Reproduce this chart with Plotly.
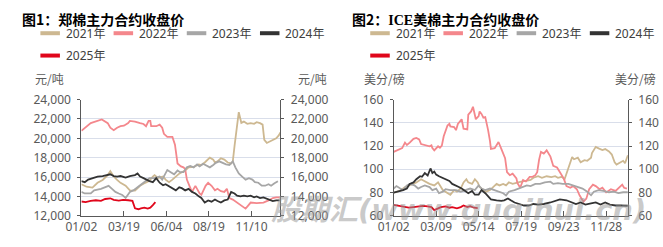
import plotly.graph_objects as go

W, H = 663, 247

names = ["2021年", "2022年", "2023年", "2024年", "2025年"]
colors = ["#CDB891", "#F4878C", "#A6A6A6", "#333333", "#E0061B"]

# ---- Chart 1: 郑棉主力合约收盘价 (元/吨), x = trading-day index ----
zce_tick_pos = [0, 50, 100, 150, 200]
zce_tick_text = ["01/02", "03/19", "06/04", "08/19", "11/10"]

zce_x_2021 = [0, 6, 13, 19, 25, 31, 34, 38, 42, 46, 52, 57, 63, 69, 75, 80, 84, 86, 90, 96, 99, 103, 107, 111, 115, 118, 122, 126, 132, 138, 141, 145, 149, 151, 155, 157, 160, 164, 168, 172, 176, 178, 180, 182, 183, 185, 186, 188, 191, 195, 199, 203, 206, 210, 213, 215, 218, 222, 225, 229, 232, 234]
zce_2021 = [15250, 15000, 14900, 15400, 15700, 16200, 16600, 16050, 15700, 15400, 15100, 14620, 14600, 15100, 15400, 15600, 16050, 16200, 15900, 16050, 15730, 15470, 15730, 16050, 16350, 16500, 16670, 17000, 17050, 17300, 17240, 17500, 17800, 18000, 17800, 17500, 17620, 17940, 17800, 17500, 17400, 17620, 19200, 21100, 21300, 22700, 22200, 21600, 21730, 21500, 21570, 21500, 21670, 21570, 21410, 19830, 19520, 19680, 19830, 20000, 20300, 20620]

zce_x_2022 = [0, 11, 24, 31, 34, 38, 42, 46, 50, 55, 57, 63, 69, 73, 76, 79, 81, 82, 88, 92, 95, 97, 101, 107, 110, 113, 117, 120, 122, 124, 127, 130, 132, 134, 136, 139, 141, 146, 149, 153, 157, 160, 164, 168, 171, 174, 178, 183, 189, 193, 196, 199, 206, 214, 220, 225, 229, 233]
zce_2022 = [20780, 21570, 21950, 21570, 21100, 20840, 21100, 21250, 21300, 21570, 21800, 21730, 21570, 21480, 21250, 21800, 21800, 21250, 21250, 21410, 21100, 20460, 20150, 20150, 19350, 17400, 17100, 17000, 16830, 15730, 15090, 14460, 14780, 15090, 14780, 14300, 14150, 15090, 15410, 15090, 14620, 14780, 14530, 14460, 14780, 13830, 13670, 13360, 13040, 12730, 13040, 13360, 13300, 13360, 13580, 13830, 13900, 13900]

zce_x_2023 = [0, 4, 11, 15, 23, 27, 32, 36, 40, 44, 48, 52, 57, 61, 67, 73, 76, 80, 86, 92, 95, 99, 101, 105, 109, 113, 116, 120, 124, 128, 132, 136, 139, 143, 147, 151, 155, 158, 162, 166, 170, 174, 178, 181, 185, 189, 193, 197, 201, 204, 208, 212, 216, 220, 223, 227, 231]
zce_2023 = [14460, 14300, 14300, 14620, 14780, 14940, 15090, 14780, 14460, 14300, 14150, 13830, 14460, 14620, 15000, 15410, 15570, 15880, 15880, 16040, 15730, 16500, 16730, 16500, 16280, 16670, 16500, 16500, 17000, 17150, 17000, 17300, 17100, 17370, 17150, 17000, 17240, 17460, 17620, 17460, 17300, 17240, 17620, 17000, 16360, 16040, 15730, 15880, 15730, 15470, 15410, 15100, 15100, 15250, 15100, 15350, 15570]

zce_x_2024 = [0, 4, 8, 13, 19, 25, 31, 34, 38, 42, 46, 52, 57, 63, 66, 69, 73, 76, 80, 84, 88, 92, 96, 99, 103, 107, 111, 115, 118, 122, 126, 130, 134, 138, 141, 145, 149, 153, 157, 160, 164, 168, 172, 176, 180, 183, 187, 191, 195, 199, 203, 206, 210, 214, 218, 222, 225, 229, 233]
zce_2024 = [15570, 15470, 15730, 15900, 16040, 16100, 16200, 16280, 16100, 16040, 16100, 15950, 16100, 16200, 16360, 16040, 15880, 15730, 15570, 15470, 15880, 15410, 15150, 15250, 15030, 14780, 14620, 14940, 14850, 14620, 14780, 14460, 14300, 14000, 13830, 13360, 13580, 13450, 13670, 13520, 13360, 13580, 13670, 14460, 14300, 14080, 14000, 14080, 14000, 14080, 13900, 14000, 13830, 13900, 13770, 13580, 13520, 13580, 13580]

zce_x_2025 = [0, 5, 11, 17, 23, 28, 34, 38, 44, 49, 55, 60, 63, 67, 70, 74, 78, 81, 84, 87]
zce_2025 = [13470, 13400, 13530, 13600, 13530, 13730, 13800, 13640, 13560, 13640, 13600, 13530, 12760, 12670, 12760, 12830, 12730, 12830, 13090, 13400]

# ---- Chart 2: ICE美棉主力合约收盘价 (美分/磅) ----
ice_tick_pos = [0, 45, 90, 135, 180, 225]
ice_tick_text = ["01/02", "03/09", "05/14", "07/19", "09/23", "11/28"]

ice_x_2021 = [0, 7, 12, 17, 24, 29, 33, 38, 43, 47, 52, 57, 60, 64, 67, 71, 74, 77, 79, 83, 86, 89, 91, 95, 98, 102, 105, 109, 112, 116, 119, 122, 126, 129, 135, 140, 145, 148, 153, 157, 162, 167, 171, 174, 178, 181, 183, 186, 189, 191, 195, 198, 202, 205, 209, 210, 214, 217, 221, 224, 228, 231, 234, 236, 240, 243, 245, 247, 248]
ice_2021 = [79.8, 81.6, 84.7, 86.1, 88.7, 91.4, 89.3, 87.4, 86.1, 88.7, 82.1, 79.4, 78.1, 82.1, 80.7, 83.4, 88.7, 91.4, 88.7, 87.4, 91.4, 88.7, 84.7, 82.1, 80.7, 82.1, 84.7, 87.4, 86.1, 87.4, 86.1, 88.7, 87.4, 88.2, 89.3, 90.0, 90.8, 92.7, 94.0, 92.7, 94.0, 93.2, 94.0, 92.7, 93.5, 91.4, 96.7, 104.7, 110.5, 108.6, 110.0, 106.0, 107.9, 107.3, 110.0, 114.0, 119.3, 118.0, 116.6, 117.4, 115.3, 112.7, 106.0, 104.1, 106.0, 107.3, 105.2, 110.0, 112.1]

ice_x_2022 = [0, 3, 9, 12, 14, 17, 21, 24, 27, 29, 35, 38, 40, 41, 43, 47, 49, 51, 53, 57, 59, 60, 64, 66, 68, 71, 72, 74, 78, 79, 82, 84, 86, 87, 90, 91, 93, 95, 97, 98, 100, 102, 103, 107, 110, 111, 114, 118, 120, 123, 126, 130, 131, 134, 137, 140, 144, 147, 150, 152, 154, 156, 159, 162, 166, 169, 173, 176, 180, 183, 187, 190, 194, 197, 201, 204, 207, 211, 214, 218, 221, 225, 230, 235, 240, 242, 244, 247]
ice_2022 = [115.0, 116.3, 118.2, 123.0, 120.9, 123.0, 126.2, 127.0, 125.7, 121.7, 120.3, 119.8, 120.6, 118.2, 116.3, 119.8, 118.5, 120.3, 128.4, 137.7, 139.1, 136.9, 136.4, 133.7, 139.1, 142.3, 143.1, 135.0, 134.3, 147.1, 149.8, 153.8, 145.8, 143.1, 145.8, 149.8, 147.7, 144.5, 145.0, 141.8, 133.7, 124.3, 117.6, 118.2, 123.0, 123.5, 117.6, 109.6, 97.5, 94.9, 96.2, 92.2, 88.2, 84.1, 90.8, 89.5, 93.5, 93.5, 94.9, 97.5, 108.3, 115.0, 113.6, 116.3, 110.9, 102.9, 101.6, 97.5, 92.2, 85.5, 84.1, 85.5, 82.8, 77.4, 72.1, 74.7, 82.8, 86.8, 85.5, 82.8, 84.1, 80.1, 82.8, 81.4, 85.5, 86.8, 84.1, 83.3]

ice_x_2023 = [0, 3, 7, 10, 14, 17, 22, 26, 29, 33, 38, 41, 45, 48, 52, 55, 60, 66, 71, 76, 81, 86, 90, 93, 97, 102, 107, 112, 116, 119, 122, 128, 133, 138, 141, 145, 150, 155, 160, 166, 169, 174, 179, 185, 190, 195, 200, 205, 209, 212, 217, 222, 228, 233, 238, 243, 248]
ice_2023 = [83.4, 85.5, 83.4, 82.1, 86.1, 87.4, 86.1, 83.4, 84.7, 86.1, 84.7, 82.1, 83.4, 79.4, 80.7, 82.9, 82.1, 82.1, 80.7, 82.1, 83.4, 82.1, 86.1, 83.4, 82.1, 83.4, 82.1, 80.7, 79.4, 77.5, 80.7, 82.1, 83.4, 84.7, 86.1, 85.5, 87.4, 87.4, 88.7, 89.3, 87.4, 88.0, 87.4, 87.4, 86.1, 84.7, 83.4, 80.7, 77.6, 80.7, 82.1, 81.3, 80.2, 80.7, 79.4, 80.2, 80.2]

ice_x_2024 = [0, 5, 10, 14, 17, 21, 24, 28, 30, 33, 36, 39, 41, 43, 45, 48, 52, 55, 59, 62, 66, 69, 72, 76, 79, 83, 86, 90, 93, 97, 100, 103, 109, 114, 117, 121, 124, 128, 133, 138, 143, 148, 153, 159, 166, 171, 176, 183, 188, 193, 198, 203, 209, 214, 219, 224, 229, 235, 241, 248]
ice_2024 = [79.8, 80.7, 82.1, 83.4, 87.4, 88.7, 91.4, 94.0, 93.5, 96.7, 94.6, 100.7, 96.7, 98.0, 95.4, 94.0, 92.7, 91.4, 90.0, 87.4, 86.1, 84.7, 83.4, 80.7, 79.4, 81.3, 78.1, 78.1, 82.1, 79.4, 76.8, 74.1, 73.3, 72.8, 73.3, 74.9, 73.3, 71.4, 70.1, 68.8, 68.8, 70.1, 69.6, 70.1, 71.4, 72.8, 74.1, 73.3, 71.4, 70.1, 71.4, 69.6, 70.6, 71.4, 69.6, 71.4, 69.6, 68.8, 68.8, 68.5]

ice_x_2025 = [0, 5, 10, 16, 21, 26, 31, 36, 40, 43, 47, 50, 55, 59, 62, 67, 71, 74, 78, 81, 85, 89]
ice_2025 = [69.3, 68.5, 68.0, 66.9, 67.4, 68.0, 68.5, 68.0, 67.4, 64.8, 66.1, 67.4, 68.0, 66.9, 67.4, 66.4, 67.4, 68.8, 67.4, 68.2, 66.9, 66.6]

zce_xs = [zce_x_2021, zce_x_2022, zce_x_2023, zce_x_2024, zce_x_2025]
zce_ys = [zce_2021, zce_2022, zce_2023, zce_2024, zce_2025]
ice_xs = [ice_x_2021, ice_x_2022, ice_x_2023, ice_x_2024, ice_x_2025]
ice_ys = [ice_2021, ice_2022, ice_2023, ice_2024, ice_2025]


def fx(p):
    return p / W


def fy(p):
    return 1 - p / H


fig = go.Figure()
# the last series (2025) is drawn against the right-hand axis, which shares the same range
for i, (name, color, xs, ys) in enumerate(zip(names, colors, zce_xs, zce_ys)):
    fig.add_trace(go.Scatter(x=xs, y=ys, mode="lines", name=name, xaxis="x",
                             yaxis="y2" if i == len(names) - 1 else "y",
                             line=dict(color=color, width=1.8), showlegend=False))
for i, (name, color, xs, ys) in enumerate(zip(names, colors, ice_xs, ice_ys)):
    fig.add_trace(go.Scatter(x=xs, y=ys, mode="lines", name=name, xaxis="x2",
                             yaxis="y4" if i == len(names) - 1 else "y3",
                             line=dict(color=color, width=1.8), showlegend=False))

FONT = "Noto Sans, Noto Sans CJK SC, sans-serif"
CJK = "Noto Sans CJK SC, Noto Sans, sans-serif"
axis_col = "#595959"
label_col = "#595959"
tick_font = dict(family=FONT, size=12, color=label_col)
ydom = [fy(222), fy(97.3)]

xcommon = dict(type="linear", tickmode="array", ticks="inside", ticklen=5, tickcolor=axis_col,
               showline=True, linecolor=axis_col, linewidth=1, showgrid=False, zeroline=False,
               tickfont=tick_font, fixedrange=True)
ycommon = dict(ticks="outside", ticklen=3, tickcolor=axis_col, showline=True, linecolor=axis_col,
               linewidth=1, zeroline=False, tickfont=tick_font, fixedrange=True, domain=ydom,
               ticklabelstandoff=4)

fig.update_layout(
    width=W, height=H, autosize=False,
    margin=dict(l=0, r=0, t=0, b=0),
    paper_bgcolor="white", plot_bgcolor="white",
    showlegend=False,
    xaxis=dict(xcommon, domain=[fx(67), fx(271)], range=[0, 234], anchor="y",
               tickvals=zce_tick_pos, ticktext=zce_tick_text),
    yaxis=dict(ycommon, anchor="x", range=[12000, 24000], dtick=2000, tick0=12000,
               tickformat=",d", showgrid=True, gridcolor="#D9DEEA", gridwidth=1),
    yaxis2=dict(ycommon, anchor="x", overlaying="y", side="right", range=[12000, 24000],
                dtick=2000, tick0=12000, tickformat=",d", showgrid=False),
    xaxis2=dict(xcommon, domain=[fx(387), fx(627)], range=[0, 248], anchor="y3",
                tickvals=ice_tick_pos, ticktext=ice_tick_text),
    yaxis3=dict(ycommon, anchor="x2", range=[60, 160], dtick=20, tick0=60,
                showgrid=True, gridcolor="#D9DEEA", gridwidth=1),
    yaxis4=dict(ycommon, anchor="x2", overlaying="y3", side="right", range=[60, 160],
                dtick=20, tick0=60, showgrid=False),
)

annotations = []
shapes = []

# titles
annotations.append(dict(text="<b>图1：郑棉主力合约收盘价</b>", x=fx(4), y=fy(11), xref="paper", yref="paper",
                        xanchor="left", yanchor="middle", showarrow=False,
                        font=dict(family=CJK, size=14, color="#000000")))
annotations.append(dict(text="<b>图2：<span style='font-family:Liberation Serif'>ICE</span>美棉主力合约收盘价</b>",
                        x=fx(342), y=fy(11), xref="paper", yref="paper",
                        xanchor="left", yanchor="middle", showarrow=False,
                        font=dict(family=CJK, size=14, color="#000000")))

# unit labels
for txt, xc in [("元/吨", 34), ("元/吨", 304), ("美分/磅", 378), ("美分/磅", 635)]:
    annotations.append(dict(text=txt, x=fx(xc), y=fy(75), xref="paper", yref="paper",
                            xanchor="center", yanchor="middle", showarrow=False,
                            font=dict(family=CJK, size=12, color=label_col)))

# legends (one per chart)
for base in (25, 363):
    for i, (name, color) in enumerate(zip(names, colors)):
        row, col = divmod(i, 4)
        x0 = base + col * 75
        yc = 26 + row * 24
        shapes.append(dict(type="line", xref="paper", yref="paper",
                           x0=fx(x0), x1=fx(x0 + 20), y0=fy(yc), y1=fy(yc),
                           line=dict(color=color, width=4)))
        annotations.append(dict(text=name, x=fx(x0 + 24), y=fy(yc), xref="paper", yref="paper",
                                xanchor="left", yanchor="middle", showarrow=False,
                                font=dict(family=FONT, size=12, color="#404040")))

# watermark
annotations.append(dict(text="<b><i>股期汇(www.guqihui.cn)</i></b>", x=fx(453), y=fy(216),
                        xref="paper", yref="paper", xanchor="center", yanchor="middle",
                        showarrow=False,
                        font=dict(family="DejaVu Sans, Noto Sans CJK SC, sans-serif", size=29,
                                  color="rgba(150,150,150,0.5)")))

fig.update_layout(annotations=annotations, shapes=shapes)

fig.write_html("out.html")
